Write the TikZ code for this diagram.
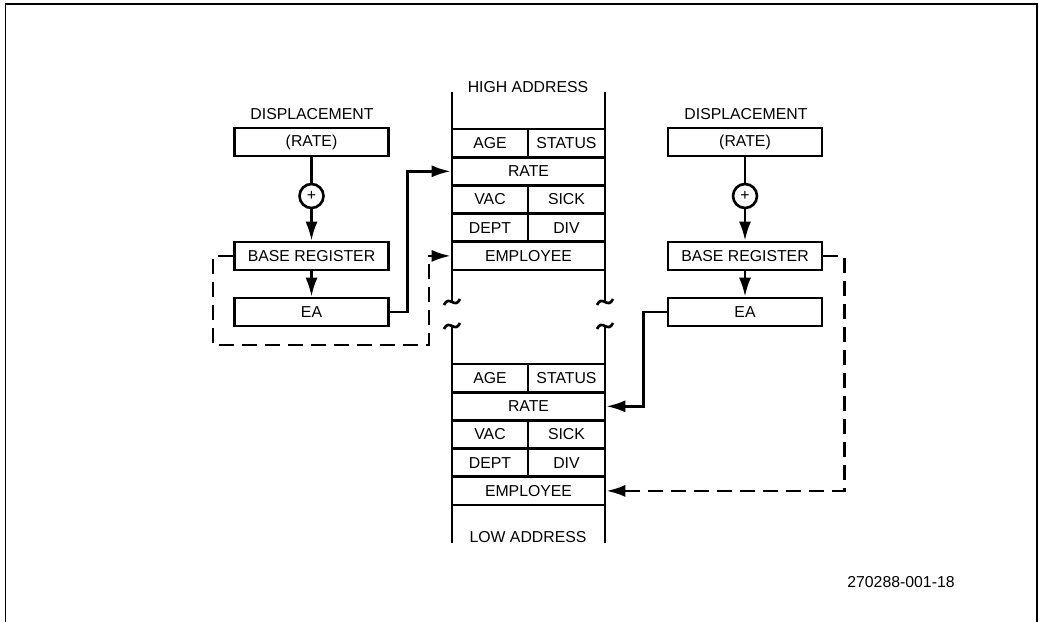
\documentclass[tikz,border=0pt]{standalone}
\usepackage{fontspec}
\setsansfont{Liberation Sans}
\usetikzlibrary{arrows.meta,positioning}
\tikzset{>={Latex[length=3.8mm,width=2.4mm]}}
\def\ux{0.02cm}
\def\uy{-0.02cm}
\tikzstyle{reg}=[draw, minimum width=3.08cm, minimum height=0.56cm, inner sep=0pt]
\tikzstyle{cell}=[draw, minimum width=3.06cm, minimum height=0.564cm, inner sep=0pt]
\tikzstyle{halfl}=[draw, minimum width=1.52cm, minimum height=0.564cm, inner sep=0pt]
\tikzstyle{halfr}=[draw, minimum width=1.54cm, minimum height=0.564cm, inner sep=0pt]
\tikzstyle{adder}=[draw, circle, fill=white, minimum size=0.48cm, inner sep=0pt]
\tikzstyle{dashline}=[dash pattern=on 3mm off 1.6mm]

\begin{document}
\begin{tikzpicture}[x=\ux,y=\uy, font=\sffamily\fontsize{9}{11}\selectfont, line width=1.5pt]
	\useasboundingbox (0,0) rectangle (1039,622);
	\draw[line width=1pt] (5.5,622) -- (5.5,4) -- (1037,4) -- (1037,622);

	% memory column
	\node (high) at (528,87) {HIGH ADDRESS};
	\node (low) at (528,537) {LOW ADDRESS};
	\foreach \blk/\y in {hi/129,lo/364}{
		\node[halfl] (age\blk) at (490,\y+14.1) {AGE};
		\node[halfr] (status\blk) at (566.5,\y+14.1) {STATUS};
		\node[cell] (rate\blk) at (528.5,\y+42.3) {RATE};
		\node[halfl] (vac\blk) at (490,\y+70.5) {VAC};
		\node[halfr] (sick\blk) at (566.5,\y+70.5) {SICK};
		\node[halfl] (dept\blk) at (490,\y+98.7) {DEPT};
		\node[halfr] (div\blk) at (566.5,\y+98.7) {DIV};
		\node[cell] (emp\blk) at (528.5,\y+126.9) {EMPLOYEE};
	}
	\foreach \x in {452,605}{
		\draw (\x,92) -- (\x,302);
		\draw (\x,326) -- (\x,543);
		\foreach \y in {302,326}
			\draw (\x-8,\y+3) .. controls (\x-3,\y-8) and (\x+3,\y+8) .. (\x+8,\y-3);
	}

	% left
	\node (dispL) at (312,114) {DISPLACEMENT};
	\node[reg] (rateL) at (311.5,142) {(RATE)};
	\node[adder] (addL) at (311.5,196) {+};
	\node[reg] (baseL) at (311.5,256) {BASE REGISTER};
	\node[reg] (eaL) at (311.5,312) {EA};
	\draw (rateL) -- (addL);
	\draw[->] (addL) -- (baseL);
	\draw[->] (baseL) -- (eaL);
	\draw[->] (eaL.east) -- ++(18,0) |- (ratehi.west);
	\coordinate (loopL) at (213,345);
	\draw[dashline,->] (baseL.west) -| (loopL) -- ++(216,0) |- (emphi.west);

	% right
	\node (dispR) at (746,114) {DISPLACEMENT};
	\node[reg] (rateR) at (745,142) {(RATE)};
	\node[adder] (addR) at (745,196) {+};
	\node[reg] (baseR) at (745,256) {BASE REGISTER};
	\node[reg] (eaR) at (745,312) {EA};
	\draw (rateR) -- (addR);
	\draw[->] (addR) -- (baseR);
	\draw[->] (baseR) -- (eaR);
	\draw[->] (eaR.west) -- ++(-23,0) |- (ratelo.east);
	\draw[dashline,->] (baseR.east) -- ++(21,0) |- (emplo.east);

	\node (fig) at (901,582) {270288-001-18};
\end{tikzpicture}
\end{document}
